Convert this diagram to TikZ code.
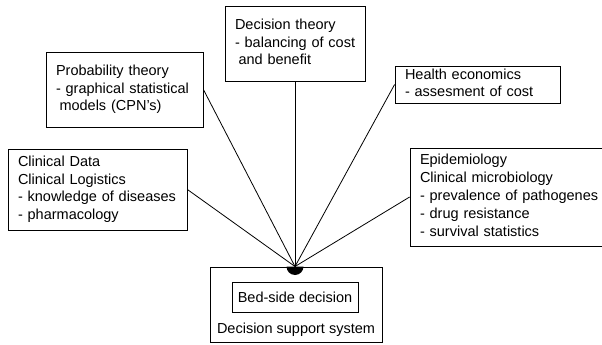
\documentclass[tikz,border=0pt]{standalone}
\usepackage{fontspec}
\setmainfont{Liberation Sans}

\newcommand{\fieldtext}[1]{\begin{tabular}{@{}l@{}}#1\end{tabular}}

\tikzset{
	field/.style={draw, line width=0.8pt, inner xsep=10pt, inner ysep=0pt,
		align=left, font=\fontsize{14.5}{17.8}\selectfont},
	spoke/.style={line width=0.8pt}
}

\begin{document}
\begin{tikzpicture}[x=1pt, y=-1pt]
		\useasboundingbox (0,0) rectangle (602,345);

		% the knowledge fields round the bed-side decision
		\node [field, minimum width=179pt, minimum height=81pt, text width=159pt] (clin) at (97.5,189.5)
			{\fieldtext{Clinical Data\\Clinical Logistics\\- knowledge of diseases\\- pharmacology}};
		\node [field, minimum width=157pt, minimum height=75pt, text width=137pt] (prob) at (124.5,89.5)
			{\fieldtext{Probability theory\\- graphical statistical\\\hspace*{3.5pt}models (CPN's)}};
		\node [field, minimum width=140pt, minimum height=75pt, text width=120pt] (dec) at (295,43.5)
			{\fieldtext{Decision theory\\- balancing of cost\\\hspace*{3.5pt}and benefit}};
		\node [field, minimum width=165pt, minimum height=37pt, text width=145pt] (health) at (477.5,84.5)
			{\fieldtext{Health economics\\- assesment of cost}};
		\node [field, minimum width=194pt, minimum height=98pt, text width=174pt] (epi) at (507,197)
			{\fieldtext{Epidemiology\\Clinical microbiology\\- prevalence of pathogenes\\- drug resistance\\- survival statistics}};

		% decision support system with the bed-side decision inside
		\node [draw, line width=0.8pt, minimum width=172pt, minimum height=75pt] (dss) at (296,304.5) {};
		\node [field, inner xsep=0pt, minimum width=126pt, minimum height=30pt, align=center] (bed) at (295,297)
			{Bed-side decision};
		\node [field, draw=none, inner xsep=0pt, align=center] (dsstext) at (296,330)
			{Decision support system};
		\coordinate (hub) at (295,266.5);

		\begin{scope}[spoke]
			\draw (clin.east) -- (hub);
			\draw (prob.east) -- (hub);
			\draw (dec.south) -- (hub);
			\draw (health.west) -- (hub);
			\draw (epi.west) -- (hub);
		\end{scope}

		\fill (hub) ++(-8.5,0) arc (180:0:8.5) -- cycle;

	\end{tikzpicture}
\end{document}
